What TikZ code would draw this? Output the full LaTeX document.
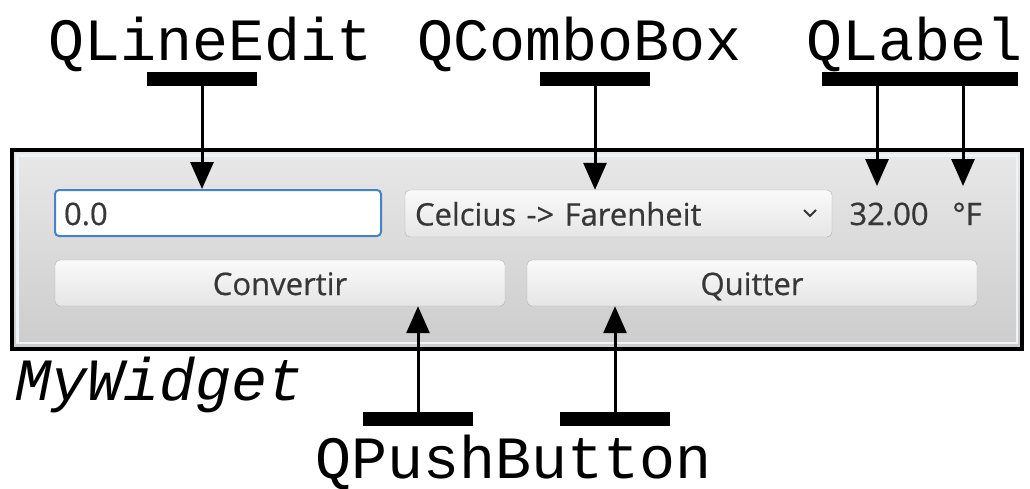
\documentclass[tikz,border=0pt]{standalone}
\usepackage{fontspec}
\usetikzlibrary{arrows.meta}

\newfontfamily\codefont{Liberation Mono}
\newfontfamily\guifont[FakeBold=0.6]{Open Sans}
\definecolor{editblue}{RGB}{70,130,200}
\definecolor{guitext}{RGB}{55,55,55}
\definecolor{btnedge}{RGB}{178,178,178}
\definecolor{bevel}{RGB}{238,243,248}

\begin{document}
\begin{tikzpicture}[x=1pt, y=-1pt,
    classname/.style={font=\codefont\fontsize{60}{60}\selectfont, inner sep=0pt, anchor=base},
    bar/.style={fill=black, inner sep=0pt, minimum height=14pt},
    ptr/.style={line width=3pt, -{Triangle[width=23pt,length=27pt]}},
    gui/.style={font=\guifont\fontsize{31}{31}\selectfont, text=guitext, text height=25pt, text depth=1pt},
    button/.style={gui, draw=btnedge, rounded corners=5pt, top color=gray!4, bottom color=gray!20,
        minimum width=450pt, minimum height=46pt, inner sep=0pt}]
    \useasboundingbox (0,0) rectangle (1030,488);

    % the window
    \node (mywidget) [draw, line width=4pt, top color=gray!18, bottom color=gray!40,
        minimum width=1010pt, minimum height=199pt, inner sep=0pt] at (517,249.5) {};
    \draw[bevel, line width=2.5pt] (17.5,155.5) rectangle (1017,343);
    \node (title) [classname, anchor=base west, font=\codefont\itshape\fontsize{60}{60}\selectfont] at (15,400) {MyWidget};

    % widgets
    \node (lineedit) [gui, draw=editblue, line width=2pt, fill=white, rounded corners=4pt,
        minimum width=326pt, minimum height=46pt, text width=308pt, align=left, inner xsep=8pt, inner ysep=0pt]
        at (218,213) {0.0};
    \node (combo) [gui, draw=btnedge, rounded corners=5pt, top color=gray!4, bottom color=gray!20,
        minimum width=427pt, minimum height=47pt, text width=407pt, align=left, inner xsep=10pt, inner ysep=0pt]
        at (618.5,213.5) {Celcius -> Farenheit};
    \draw[guitext, line width=2pt] (804,210) -- (810,216) -- (816,210);
    \node (value) [gui, inner sep=0pt] at (889,213) {32.00};
    \node (unit) [gui, inner sep=0pt] at (967,213) {°F};
    \node (convertir) [button] at (280,283) {Convertir};
    \node (quitter) [button] at (752,283) {Quitter};

    % class names
    \node (leName) [classname] at (211,60) {QLineEdit};
    \node (cbName) [classname] at (580,60) {QComboBox};
    \node (lblName) [classname] at (915,60) {QLabel};
    \node (pbName) [classname] at (514,478) {QPushButton};

    \node (leBar) [bar, minimum width=110pt] at (202,79) {};
    \node (cbBar) [bar, minimum width=110pt] at (595,79) {};
    \node (lblBar) [bar, minimum width=196pt] at (920,79) {};
    \node (pbBarA) [bar, minimum width=110pt] at (418,419) {};
    \node (pbBarB) [bar, minimum width=110pt] at (615,419) {};

    \coordinate (valueTip) at (877,186);
    \coordinate (unitTip) at (963,186);

    \draw[ptr] (leBar.south) -- (leBar.south |- lineedit.north);
    \draw[ptr] (cbBar.south) -- (cbBar.south |- combo.north);
    \draw[ptr] (lblBar.south -| valueTip) -- (valueTip);
    \draw[ptr] (lblBar.south -| unitTip) -- (unitTip);
    \draw[ptr] (pbBarA.north) -- (pbBarA.north |- convertir.south);
    \draw[ptr] (pbBarB.north) -- (pbBarB.north |- quitter.south);
\end{tikzpicture}
\end{document}
